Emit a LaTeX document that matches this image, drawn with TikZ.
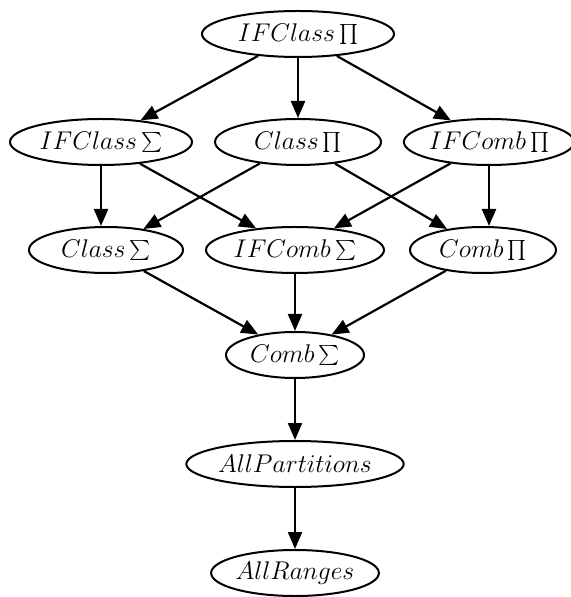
\documentclass[tikz,border=0pt]{standalone}
\usepackage{fix-cm}
\usetikzlibrary{shapes.geometric,arrows.meta}
\begin{document}
\begin{tikzpicture}[x=0.5pt,y=-0.5pt,
  nd/.style={ellipse,draw,line width=1pt,inner sep=0pt,minimum height=23pt,font=\fontsize{12.8}{15}\selectfont},
  ed/.style={line width=1.1pt,-{Triangle[length=8.5pt,width=7pt]}}]
\useasboundingbox (0,0) rectangle (570,597);
\node[nd,minimum width=96pt] (icp) at (298,34) {$IFClass\prod$};
\node[nd,minimum width=91pt] (ics) at (101,142) {$IFClass\sum$};
\node[nd,minimum width=83pt] (cp) at (298,142) {$Class\prod$};
\node[nd,minimum width=80pt] (icbp) at (489,142) {$IFComb\prod$};
\node[nd,minimum width=77pt] (cs) at (106,250) {$Class\sum$};
\node[nd,minimum width=89pt] (icbs) at (295,250) {$IFComb\sum$};
\node[nd,minimum width=73pt] (cbp) at (483,250) {$Comb\prod$};
\node[nd,minimum width=69pt] (cbs) at (295,355) {$Comb\sum$};
\node[nd,minimum width=104pt] (ap) at (295,464) {$AllPartitions$};
\node[nd,minimum width=77pt] (ar) at (295,573) {$AllRanges$};
\draw[ed] (icp) -- (ics);
\draw[ed] (icp) -- (cp);
\draw[ed] (icp) -- (icbp);
\draw[ed] (ics) -- (ics |- cs.north);
\draw[ed] (ics) -- (icbs);
\draw[ed] (cp) -- (cs);
\draw[ed] (cp) -- (cbp);
\draw[ed] (icbp) -- (icbs);
\draw[ed] (icbp) -- (icbp |- cbp.north);
\draw[ed] (cs) -- (cbs);
\draw[ed] (icbs) -- (cbs);
\draw[ed] (cbp) -- (cbs);
\draw[ed] (cbs) -- (ap);
\draw[ed] (ap) -- (ar);
\end{tikzpicture}
\end{document}
